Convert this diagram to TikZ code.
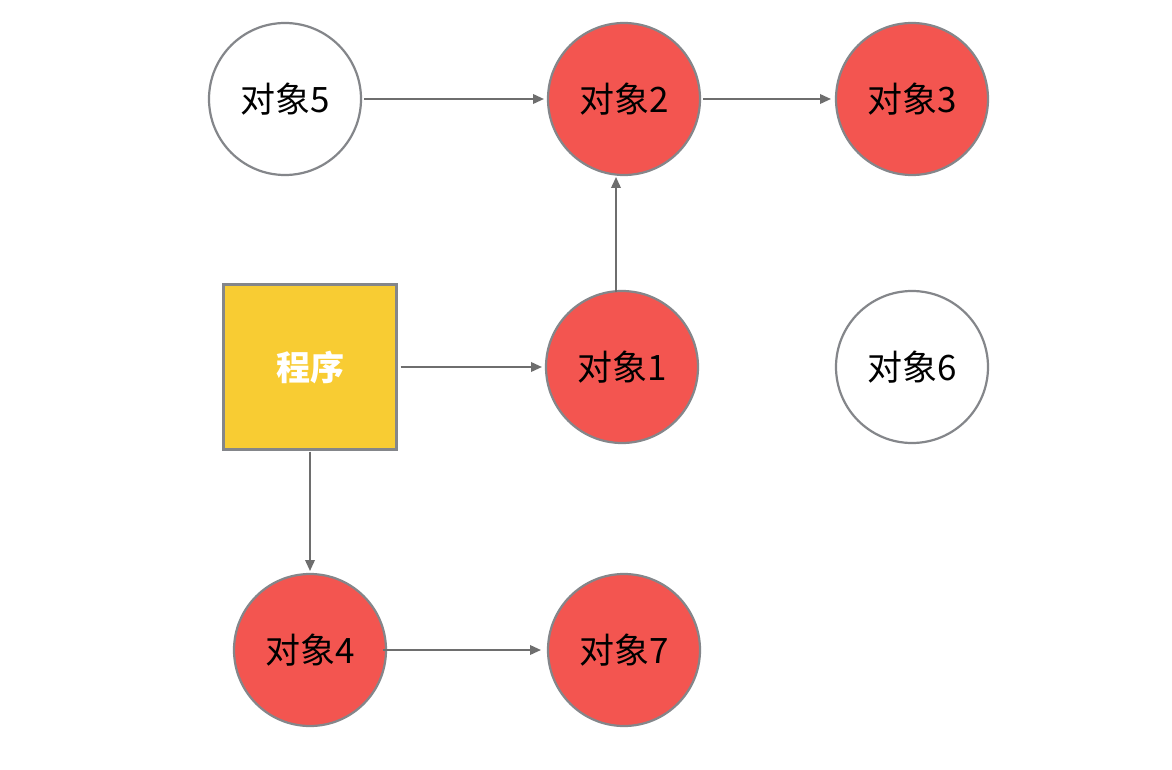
\documentclass[tikz,border=0pt]{standalone}
\usepackage{fontspec}
\setmainfont{Noto Sans CJK SC}
\usetikzlibrary{arrows.meta}
\definecolor{edgegray}{HTML}{84868A}
\definecolor{arrowgray}{HTML}{6E6E6E}
\definecolor{objred}{HTML}{F35550}
\definecolor{progyellow}{HTML}{F8CC33}
\tikzset{
  obj/.style={circle, draw=edgegray, line width=2.2pt, minimum size=152pt,
    inner sep=0pt, outer sep=0pt, font=\fontsize{35}{35}\selectfont, text=black},
  live/.style={obj, fill=objred},
  dead/.style={obj, fill=white},
  prog/.style={rectangle, draw=edgegray, line width=2.2pt, fill=progyellow,
    minimum width=173pt, minimum height=165pt, inner sep=0pt, outer sep=0pt,
    font=\fontsize{34}{34}\selectfont\bfseries, text=white},
  ref/.style={draw=arrowgray, line width=2pt,
    -{Triangle[length=11pt,width=9.5pt]}}
}
\begin{document}
\begin{tikzpicture}[x=1pt, y=-1pt]
  \useasboundingbox (0,0) rectangle (1172,770);
  \fill[white] (0,0) rectangle (1172,770);

  % objects on the heap
  \node[dead] (o5) at (285,99)  {对象5};
  \node[live] (o2) at (624,99)  {对象2};
  \node[live] (o3) at (912,99)  {对象3};
  \node[live] (o1) at (622,367) {对象1};
  \node[dead] (o6) at (912,367) {对象6};
  \node[live] (o4) at (310,650) {对象4};
  \node[live] (o7) at (624,650) {对象7};

  % the program (root)
  \node[prog] (p) at (310,367) {程序};

  % references
  \draw[ref, shorten <=3pt, shorten >=4pt] (o5.east) -- (o5.east -| o2.west);
  \draw[ref, shorten <=3pt, shorten >=5pt] (o2.east) -- (o2.east -| o3.west);
  \draw[ref, shorten <=-1pt, shorten >=2pt]
    ([xshift=-6pt]o1.north) -- ([xshift=-6pt]o1.north |- o2.south);
  \draw[ref, shorten <=4pt, shorten >=4pt] (p.east) -- (p.east -| o1.west);
  \draw[ref, shorten <=2pt, shorten >=3pt] (p.south) -- (p.south |- o4.north);
  \draw[ref, shorten <=-3pt, shorten >=7pt] (o4.east) -- (o4.east -| o7.west);
\end{tikzpicture}
\end{document}
